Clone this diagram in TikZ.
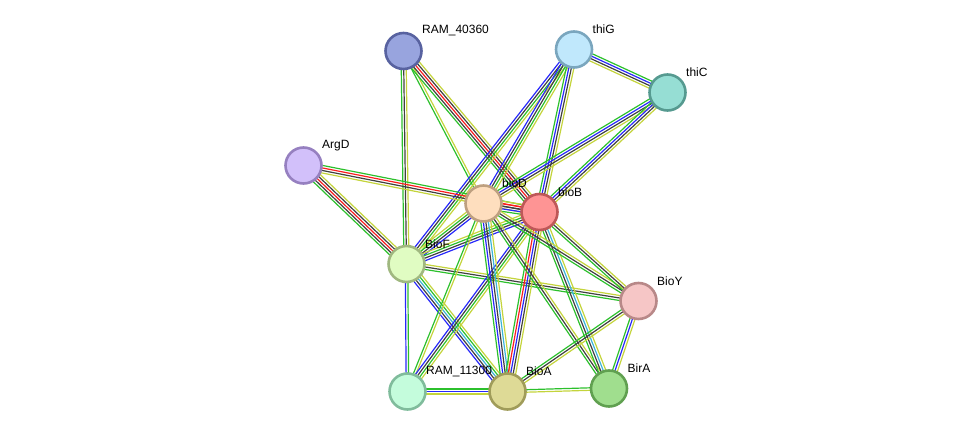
\documentclass[tikz,border=0pt]{standalone}
\usepackage{fontspec}
\setmainfont{Liberation Sans}
\usepackage{tkz-euclide}
\usetikzlibrary{calc,backgrounds}

\definecolor{lg}{RGB}{44,192,44}
\definecolor{ly}{RGB}{196,212,60}
\definecolor{lk}{RGB}{64,64,64}
\definecolor{lb}{RGB}{40,40,250}
\definecolor{lr}{RGB}{250,30,30}
\definecolor{lc}{RGB}{60,180,216}

\definecolor{f40360}{HTML}{98A4DE}\definecolor{d40360}{HTML}{5862A0}
\definecolor{fthiG}{HTML}{C0E8FC}\definecolor{dthiG}{HTML}{7AA6BE}
\definecolor{fthiC}{HTML}{96DED4}\definecolor{dthiC}{HTML}{569A90}
\definecolor{fargD}{HTML}{D2C0FA}\definecolor{dargD}{HTML}{9680C0}
\definecolor{fbioD}{HTML}{FEDEBE}\definecolor{dbioD}{HTML}{BEA080}
\definecolor{fbioB}{HTML}{FE9494}\definecolor{dbioB}{HTML}{BE5858}
\definecolor{fbioF}{HTML}{E0FCC2}\definecolor{dbioF}{HTML}{A0B880}
\definecolor{fbioY}{HTML}{F6C6C6}\definecolor{dbioY}{HTML}{B88888}
\definecolor{f11300}{HTML}{C4FCDC}\definecolor{d11300}{HTML}{80BC9C}
\definecolor{fbioA}{HTML}{DEDA96}\definecolor{dbioA}{HTML}{A09C5A}
\definecolor{fbirA}{HTML}{A0DE8E}\definecolor{dbirA}{HTML}{60A050}

\tikzset{
  prot/.style={circle,minimum size=36pt,inner sep=0pt,line width=2.6pt,fill=f#1,draw=d#1},
  lbl/.style={anchor=west,inner sep=0pt,font=\fontsize{12}{14}\selectfont},
  link/.style={line width=1.2pt}
}

\newcommand\bundle[3]{%
  \foreach \c [count=\n] in {#3}{\global\let\nlines\n}%
  \foreach \c [count=\i] in {#3}{%
    \pgfmathsetmacro\off{(\i-(\nlines+1)/2)*2.5}%
    \draw[link,\c] ($(#1)!\off pt!90:(#2)$) -- ($(#2)!\off pt!-90:(#1)$);}}

\begin{document}
\begin{tikzpicture}[x=1pt,y=-1pt]
		\useasboundingbox (0,0) rectangle (976,438);
		\tkzDefPoints{403.5/51/P1,574/49.5/P2,667.5/92.5/P3,303.5/165.5/P4,483.5/203.5/P5,539.5/212/P6,406.5/264/P7,638.5/301/P8,407.5/391.5/P9,507.5/391.5/P10,609/388.5/P11}
		\node[prot=40360] (ram40360) at (P1) {};
		\node[prot=thiG] (thiG) at (P2) {};
		\node[prot=thiC] (thiC) at (P3) {};
		\node[prot=argD] (argD) at (P4) {};
		\node[prot=bioD] (bioD) at (P5) {};
		\node[prot=bioB] (bioB) at (P6) {};
		\node[prot=bioF] (bioF) at (P7) {};
		\node[prot=bioY] (bioY) at (P8) {};
		\node[prot=11300] (ram11300) at (P9) {};
		\node[prot=bioA] (bioA) at (P10) {};
		\node[prot=birA] (birA) at (P11) {};
		\foreach \p/\t in {ram40360/RAM\_40360,thiG/thiG,thiC/thiC,argD/ArgD,bioD/bioD,bioB/bioB,bioF/BioF,bioY/BioY,ram11300/RAM\_11300,bioA/BioA,birA/BirA}
		  \node[lbl] (l-\p) at ($(\p)+(18.5,-20)$) {\t};
		\begin{scope}[on background layer]
		\bundle{ram40360}{bioF}{lg,lk,ly}
		\bundle{ram40360}{bioD}{lg,ly}
		\bundle{ram40360}{bioB}{lg,lk,lr,lk,ly}
		\bundle{thiG}{thiC}{ly,lk,lb,lg}
		\bundle{thiG}{bioF}{lb,lk,lg,ly}
		\bundle{thiG}{bioD}{lb,lk,lg,ly}
		\bundle{thiG}{bioB}{lg,lb,lk,ly}
		\bundle{thiC}{bioD}{lg,lb,lk,ly}
		\bundle{thiC}{bioB}{lg,lb,lk,ly}
		\bundle{argD}{bioB}{ly,lk,lr,lg}
		\bundle{argD}{bioF}{lg,lk,lr,lk,ly}
		\bundle{bioD}{bioB}{lg,lb,lk,lr,ly}
		\bundle{bioF}{bioD}{lb,lk,lg,ly}
		\bundle{bioF}{bioB}{lb,lk,lg,ly}
		\bundle{bioF}{bioY}{lg,lk,ly}
		\bundle{bioF}{ram11300}{lb,lg}
		\bundle{bioF}{bioA}{lb,lk,lc,lg,ly}
		\bundle{bioD}{ram11300}{lg,ly}
		\bundle{bioB}{ram11300}{lb,lk,lg,ly}
		\bundle{bioD}{bioA}{lg,lb,lk,lc,ly}
		\bundle{bioB}{bioA}{lg,lr,lb,lk,ly}
		\bundle{bioD}{birA}{lg,lk,ly}
		\bundle{bioB}{birA}{lg,lk,lc,ly}
		\bundle{bioD}{bioY}{lg,lk,ly}
		\bundle{bioB}{bioY}{lg,lk,ly}
		\bundle{bioY}{bioA}{lg,lk,ly}
		\bundle{bioY}{birA}{lg,lb,ly}
		\bundle{ram11300}{bioA}{ly,lb,lg}
		\bundle{bioA}{birA}{ly,lg}
		\end{scope}
\end{tikzpicture}
\end{document}
